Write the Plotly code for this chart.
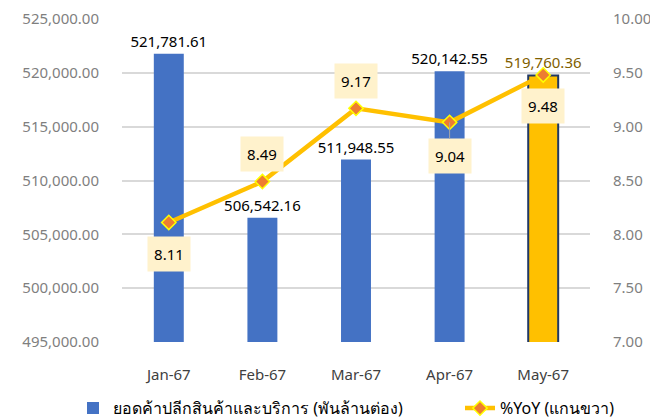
import plotly.graph_objects as go

# Data
months = ["Jan-67", "Feb-67", "Mar-67", "Apr-67", "May-67"]
sales = [521781.61, 506542.16, 511948.55, 520142.55, 519760.36]
yoy = [8.11, 8.49, 9.17, 9.04, 9.48]
yoy_shift = [-32, 28, 27, -34, -31]  # label box offsets (px)

bar_name = "ยอดค้าปลีกสินค้าและบริการ (พันล้านต่อง)"
line_name = "%YoY (แกนขวา)"

FONT = "Tahoma, 'Noto Sans', 'DejaVu Sans', sans-serif"
GOLD = "#FFC000"
BLUE = "#4472C4"

bar_colors = [BLUE] * 4 + [GOLD]
bar_line_w = [0, 0, 0, 0, 2]
label_colors = ["#000000"] * 4 + ["#7F6000"]

fig = go.Figure()

fig.add_trace(go.Bar(
    x=months, y=sales, name=bar_name, legend="legend",
    width=0.32,
    marker=dict(color=bar_colors, line=dict(color="#203864", width=bar_line_w)),
    text=[f"{v:,.2f}" for v in sales],
    textposition="outside",
    constraintext="none",
    textfont=dict(size=15, color=label_colors, family=FONT),
    cliponaxis=False,
))

fig.add_trace(go.Scatter(
    x=months, y=yoy, name=line_name, yaxis="y2", legend="legend2",
    mode="lines+markers",
    line=dict(color=GOLD, width=4.5),
    marker=dict(symbol="diamond", size=11, color="#ED7D31",
                line=dict(color="#FFFF00", width=1.5)),
))

# %YoY labels in cream boxes
for m, v, s in zip(months, yoy, yoy_shift):
    fig.add_annotation(
        x=m, y=v, xref="x", yref="y2",
        text=f"{v:.2f}", showarrow=(m == "Apr-67"),
        ax=0, ay=-s, arrowhead=0, arrowcolor="#A6A6A6", arrowwidth=1,
        yshift=0 if m == "Apr-67" else s,
        width=40, height=32, bgcolor="#FFF2CC",
        font=dict(size=15, color="#000000", family=FONT),
    )

legend_font = dict(size=16, color="#000000", family=FONT)

fig.update_layout(
    width=650, height=411,
    margin=dict(l=114, r=68, t=11, b=77, autoexpand=False),
    paper_bgcolor="white", plot_bgcolor="white",
    font=dict(family=FONT, color="#595959", size=15),
    xaxis=dict(showgrid=False, showline=False, ticks="", automargin=False,
               ticklabelstandoff=22, tickfont=dict(size=15, color="#404040")),
    yaxis=dict(range=[495000, 525000], dtick=5000, tickformat=",.2f",
               gridcolor="#D9D9D9", gridwidth=1.5, zeroline=False,
               showline=False, ticklabelstandoff=22, automargin=False,
               tickfont=dict(size=15, color="#7F7F7F")),
    yaxis2=dict(range=[7, 10], dtick=0.5, tickformat=".2f",
                overlaying="y", side="right", showgrid=False, zeroline=False,
                showline=False, ticklabelstandoff=22, automargin=False,
                tickfont=dict(size=15, color="#7F7F7F")),
    showlegend=True,
    legend=dict(orientation="h", xref="container", x=65 / 650, xanchor="left",
                y=-0.205, yanchor="middle", font=legend_font),
    legend2=dict(orientation="h", xref="container", x=452 / 650, xanchor="left",
                 y=-0.205, yanchor="middle", font=legend_font),
)

fig.write_html("out.html")
